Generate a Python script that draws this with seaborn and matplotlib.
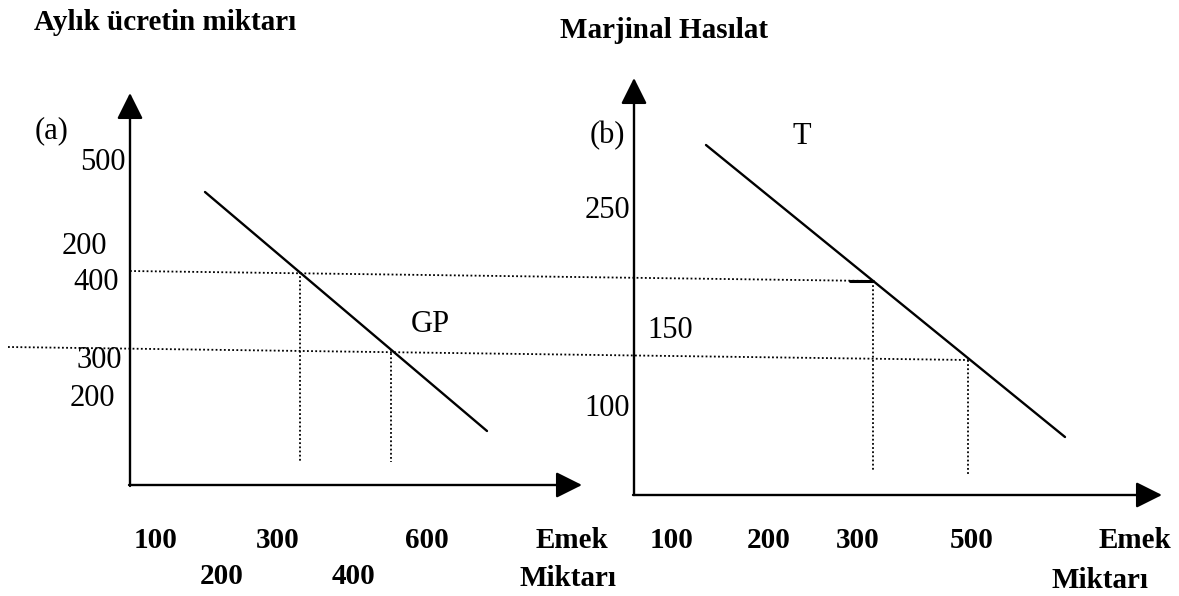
import matplotlib
matplotlib.use("Agg")
import matplotlib.pyplot as plt
import pandas as pd
import seaborn as sns

# ---------------- data (diagram units, y grows downward) ----------------
title_a = "Aylık ücretin miktarı"
title_b = "Marjinal Hasılat"
xlabel_top = "Emek"
xlabel_bottom = "Miktarı"

# demand-type curves
gp_x = [205, 487]
gp_y = [192, 431]
t_x = [706, 1065]
t_y = [145, 437]

# dotted guide lines
guide_upper_x = [130, 873]
guide_upper_y = [271, 281]
guide_lower_x = [8, 968]
guide_lower_y = [347, 360]
drop_x = [300, 391, 873, 968]
drop_top = [272, 349, 281, 360]
drop_bottom = [462, 462, 470, 474]

# panel (a) labels
a_ylabels = ["500", "200", "400", "300", "200"]
a_ylabel_y = [163, 247, 283, 361, 398]
a_ylabel_right = [126, 107, 119, 122, 115]
a_xlabels_row1 = ["100", "300", "600"]
a_xlabels_row1_x = [156, 278, 427]
a_xlabels_row2 = ["200", "400"]
a_xlabels_row2_x = [222, 354]

# panel (b) labels
b_ylabels = ["250", "100"]
b_ylabel_y = [211, 409]
b_ylabel_right = [630, 630]
b_inner_label = "150"
b_xlabels = ["100", "200", "300", "500"]
b_xlabels_x = [672, 769, 858, 972]

# ---------------- figure ----------------
sns.set_theme(style="white")
plt.rcParams["font.family"] = ["Liberation Serif", "DejaVu Serif"]
plt.rcParams["text.color"] = "black"

fig = plt.figure(figsize=(11.79, 5.96), dpi=100)
ax = fig.add_axes([0, 0, 1, 1])
ax.set_xlim(0, 1179)
ax.set_ylim(596, 0)
ax.axis("off")

k = "black"

# main curves via seaborn
df_gp = pd.DataFrame({"x": gp_x, "y": gp_y})
df_t = pd.DataFrame({"x": t_x, "y": t_y})
sns.lineplot(data=df_gp, x="x", y="y", ax=ax, color=k, lw=1.7, sort=False)
sns.lineplot(data=df_t, x="x", y="y", ax=ax, color=k, lw=1.7, sort=False)

dot = dict(color=k, lw=1.3, linestyle=(0, (1, 1.3)))
ax.plot(guide_upper_x, guide_upper_y, **dot)
ax.plot(guide_lower_x, guide_lower_y, **dot)
for x, y0, y1 in zip(drop_x, drop_top, drop_bottom):
    ax.plot([x, x], [y0, y1], **dot)

# short solid tick at upper intersection on panel b
x_cross = t_x[0] + (guide_upper_y[1] - t_y[0]) / (t_y[1] - t_y[0]) * (t_x[1] - t_x[0])
ax.plot([850, x_cross], [guide_upper_y[1], guide_upper_y[1]], color=k, lw=2.2)

# axes with arrows
arr = dict(arrowstyle="-|>,head_length=0.8,head_width=0.4", color=k, lw=1.7,
           shrinkA=0, shrinkB=0, mutation_scale=20)
ax.annotate("", xy=(130, 93), xytext=(130, 486), arrowprops=arr)
ax.annotate("", xy=(582, 485), xytext=(129, 485), arrowprops=arr)
ax.annotate("", xy=(634, 78), xytext=(634, 495), arrowprops=arr)
ax.annotate("", xy=(1162, 495), xytext=(633, 495), arrowprops=arr)

# titles
ax.text(34, 23, title_a, fontsize=21, fontweight="bold", ha="left", va="center", color=k)
ax.text(560, 30, title_b, fontsize=21, fontweight="bold", ha="left", va="center", color=k)

# panel markers
ax.text(52, 131, "(a)", fontsize=22, ha="center", va="center", color=k)
ax.text(607, 136, "(b)", fontsize=22, ha="center", va="center", color=k)
ax.text(411, 325, "GP", fontsize=22, ha="left", va="center", color=k)
ax.text(802, 136, "T", fontsize=22, ha="center", va="center", color=k)

# y labels
for s, y, r in zip(a_ylabels, a_ylabel_y, a_ylabel_right):
    ax.text(r, y, s, fontsize=22, ha="right", va="center", color=k)
for s, y, r in zip(b_ylabels, b_ylabel_y, b_ylabel_right):
    ax.text(r, y, s, fontsize=22, ha="right", va="center", color=k)
ax.text(647, 330, b_inner_label, fontsize=22, ha="left", va="center", color=k)

# x labels
bold = dict(fontsize=21, fontweight="bold", va="center", color=k)
for s, x in zip(a_xlabels_row1, a_xlabels_row1_x):
    ax.text(x, 540, s, ha="center", **bold)
for s, x in zip(a_xlabels_row2, a_xlabels_row2_x):
    ax.text(x, 577, s, ha="center", **bold)
for s, x in zip(b_xlabels, b_xlabels_x):
    ax.text(x, 540, s, ha="center", **bold)
ax.text(536, 540, xlabel_top, ha="left", **bold)
ax.text(520, 579, xlabel_bottom, ha="left", **bold)
ax.text(1099, 540, xlabel_top, ha="left", **bold)
ax.text(1051, 580, xlabel_bottom, ha="left", **bold)

fig.savefig("out.png", dpi=100, facecolor="white")
